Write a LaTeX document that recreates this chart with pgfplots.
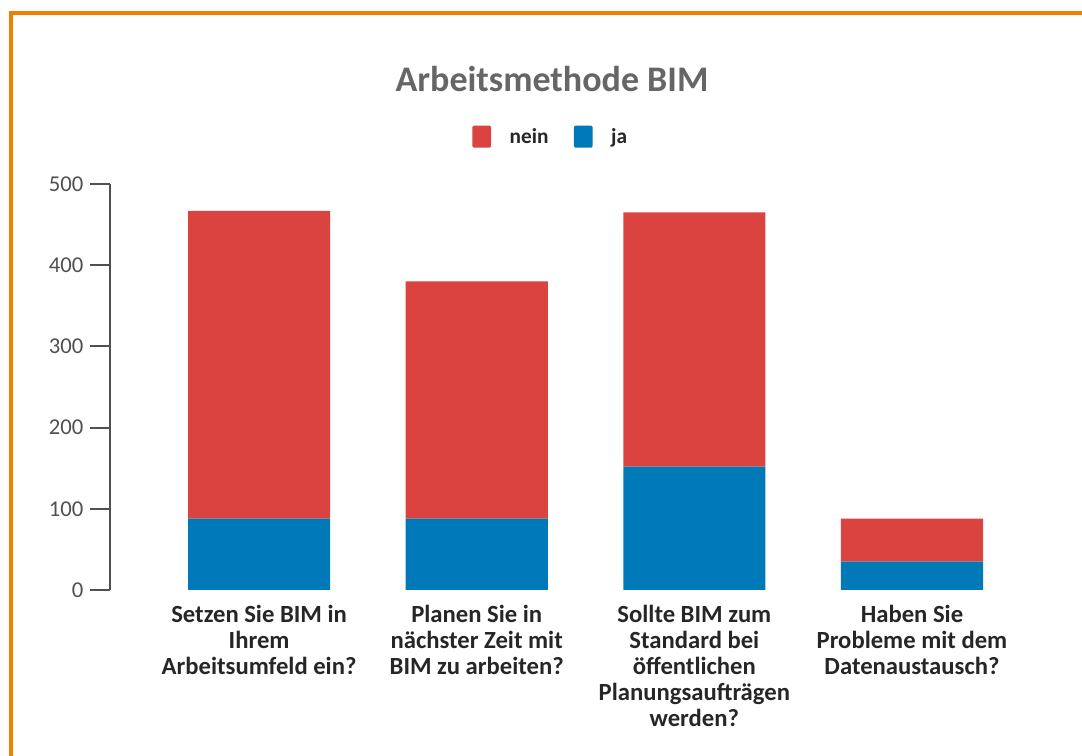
\documentclass[border=0pt]{standalone}
\usepackage{pgfplots}
\pgfplotsset{compat=1.18}
\usepackage{fontspec}
\setmainfont{Carlito}
\definecolor{nein}{RGB}{219,67,64}
\definecolor{ja}{RGB}{0,121,184}
\definecolor{frame}{RGB}{240,128,0}
\definecolor{titlegray}{RGB}{102,102,102}
\definecolor{axgray}{RGB}{80,80,80}
\begin{document}
\begin{tikzpicture}
\useasboundingbox (0,0) rectangle (811.5pt,567pt);
\draw[frame, line width=3pt] (8.25pt,0pt) -- (8.25pt,557.25pt) -- (811.5pt,557.25pt);
\begin{axis}[
  at={(82.5pt,124.5pt)}, anchor=south west,
  scale only axis,
  width=699.4pt, height=304.5pt,
  ybar stacked,
  bar width=0.653,
  xmin=-0.685, xmax=3.6,
  ymin=0, ymax=500,
  ytick={0,100,200,300,400,500},
  xtick={0,1,2,3},
  xticklabels={{Setzen Sie BIM in\\Ihrem\\Arbeitsumfeld ein?},
               {Planen Sie in\\nächster Zeit mit\\BIM zu arbeiten?},
               {Sollte BIM zum\\Standard bei\\öffentlichen\\Planungsaufträgen\\werden?},
               {Haben Sie\\Probleme mit dem\\Datenaustausch?}},
  xticklabel style={align=center, font=\fontsize{18.5}{19.5}\selectfont\bfseries, text=black!85, yshift=7pt},
  yticklabel style={font=\fontsize{17}{18}\selectfont, text=axgray, xshift=-1.5pt},
  /pgf/number format/assume math mode=true,
  axis y line=left,
  axis x line=bottom,
  axis line style={-, draw=axgray, line width=1.5pt},
  x axis line style={draw=none},
  major x tick style={draw=none},
  ytick style={draw=axgray, line width=1.5pt},
  tick align=outside,
  major tick length=15pt,
  title={Arbeitsmethode BIM},
  title style={at={(0.474,1.238)}, anchor=center, font=\fontsize{27}{30}\selectfont\bfseries, text=titlegray},
  legend style={at={(0.473,1.116)}, anchor=center, draw=none, legend columns=2,
    font=\fontsize{16}{18}\selectfont\bfseries, text=black!85,
    /tikz/every even column/.append style={column sep=17pt}},
  legend image code/.code={\fill[#1, rounded corners=1pt] (0pt,-8pt) rectangle (14pt,8.5pt);
    \path (26pt,0pt);},
  legend cell align=left,
]
\addplot[fill=ja, draw=none, forget plot] coordinates {(0,88) (1,88) (2,152) (3,35)};
\addplot[fill=nein, draw=none, forget plot] coordinates {(0,379) (1,292) (2,313) (3,53)};
\addlegendimage{fill=nein, draw=none}
\addlegendentry{nein}
\addlegendimage{fill=ja, draw=none}
\addlegendentry{ja}
\end{axis}
\end{tikzpicture}
\end{document}
